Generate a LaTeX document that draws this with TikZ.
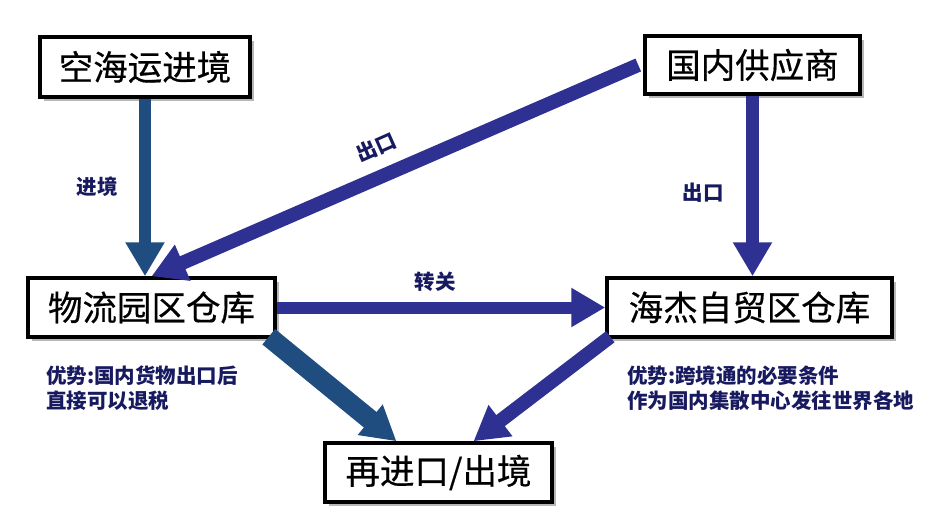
\documentclass[tikz,border=0pt]{standalone}
\usepackage{fontspec}
\setmainfont{Noto Sans CJK SC}
\newfontfamily\boxfont[FakeBold=0.5]{Noto Sans CJK SC}
\usepackage{tikz}
\usetikzlibrary{arrows.meta,shadows}

\definecolor{steelarr}{RGB}{31,77,128}
\definecolor{indigoarr}{RGB}{46,49,146}
\definecolor{notecol}{RGB}{24,26,96}

\begin{document}
\begin{tikzpicture}[x=1pt,y=-1pt,
  boxstyle/.style={draw=black,line width=3.5pt,fill=white,inner sep=0pt,
    font=\boxfont\fontsize{34.5}{40}\selectfont,
    drop shadow={shadow xshift=4pt,shadow yshift=-4pt,opacity=0.4,fill=black!70}},
  indigostyle/.style={draw=indigoarr,line width=13pt,-{Triangle[width=37pt,length=34pt]}},
  steelstyle/.style={draw=steelarr,line width=12pt,-{Triangle[width=37pt,length=34pt]}},
  labelstyle/.style={text=notecol,font=\fontsize{20.5}{25}\selectfont\bfseries}]
  \useasboundingbox (0,0) rectangle (942,523);

  \node [boxstyle,minimum width=210pt,minimum height=60pt] (kong) at (145,67) {空海运进境};
  \node [boxstyle,minimum width=215pt,minimum height=58pt] (gongying) at (752.5,65) {国内供应商};
  \node [boxstyle,minimum width=247pt,minimum height=59pt] (wuliu) at (151.5,307.5) {物流园区仓库};
  \node [boxstyle,minimum width=285pt,minimum height=59pt] (haijie) at (749.5,307.5) {海杰自贸区仓库};
  \node [boxstyle,minimum width=227pt,minimum height=59pt] (zaijin) at (438.5,472.5) {再进口/出境};

  \draw [steelstyle] (kong.south) -- (kong.south |- wuliu.north);
  \draw [indigostyle,line width=14pt] ([xshift=-5pt]gongying.west) -- (wuliu.north);
  \draw [indigostyle] (gongying.south) -- (gongying.south |- haijie.north);
  \draw [indigostyle,line width=12pt] (wuliu.east) -- (haijie.west);
  \draw [steelstyle,line width=20pt] ([xshift=-8pt,yshift=2pt]wuliu.south east) -- ([xshift=-42pt]zaijin.north);
  \draw [indigostyle,line width=14pt] ([xshift=5pt,yshift=2pt]haijie.south west) -- ([xshift=35pt]zaijin.north);

  \node [labelstyle] (jinjing) at (97,187) {进境};
  \node [labelstyle,rotate=24] (chukou1) at (376,147) {出口};
  \node [labelstyle] (chukou2) at (703,193) {出口};
  \node [labelstyle] (zhuanguan) at (435,282) {转关};
  \node [labelstyle,anchor=north west,align=left,inner sep=0pt] (youshi1) at (46,366)
    {优势:国内货物出口后\\直接可以退税};
  \node [labelstyle,anchor=north west,align=left,inner sep=0pt] (youshi2) at (627,366)
    {优势:跨境通的必要条件\\作为国内集散中心发往世界各地};

\end{tikzpicture}
\end{document}
